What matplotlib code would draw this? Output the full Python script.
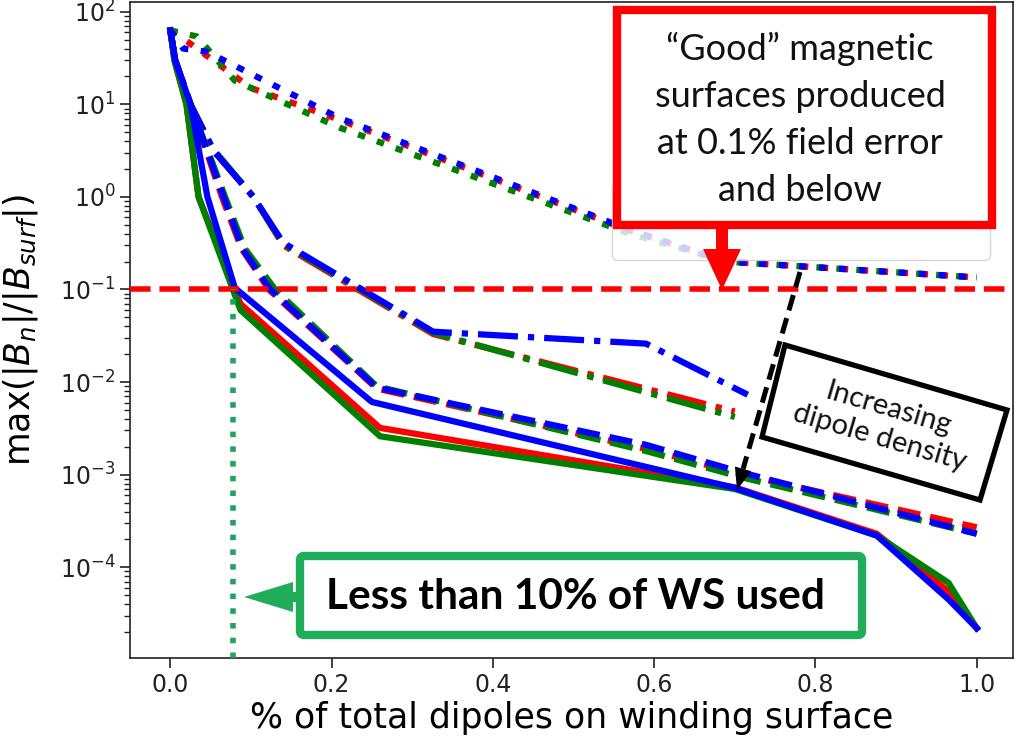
import numpy as np
import matplotlib
matplotlib.use("Agg")
import matplotlib.pyplot as plt
from matplotlib import patches, transforms, ticker
from matplotlib.lines import Line2D

# ---------------- data ----------------
# solid lines (highest dipole density)
x_solid_red = [0.0, 0.005, 0.02, 0.035, 0.087, 0.26, 0.70, 0.876, 0.965, 1.0]
y_solid_red = [63, 30, 10, 1.0, 0.07, 0.0032, 7.3e-4, 2.3e-4, 5.5e-5, 2.2e-5]
x_solid_green = [0.0, 0.005, 0.02, 0.035, 0.087, 0.26, 0.70, 0.876, 0.965, 1.0]
y_solid_green = [63, 30, 10, 1.0, 0.06, 0.0026, 7.0e-4, 2.2e-4, 6.8e-5, 2.2e-5]
x_solid_blue = [0.0, 0.006, 0.025, 0.046, 0.08, 0.25, 0.70, 0.876, 0.965, 1.0]
y_solid_blue = [63, 30, 10, 1.0, 0.104, 0.0061, 7.2e-4, 2.2e-4, 4.5e-5, 2.2e-5]

# dashed lines
x_dash_red = [0.0, 0.006, 0.025, 0.064, 0.088, 0.122, 0.256, 0.59, 0.71, 1.0]
y_dash_red = [63, 30, 10, 1.0, 0.28, 0.1, 0.0085, 0.0019, 0.0010, 2.7e-4]
x_dash_green = [0.0, 0.006, 0.025, 0.068, 0.092, 0.13, 0.256, 0.59, 0.71, 1.0]
y_dash_green = [63, 30, 10, 1.0, 0.28, 0.1, 0.0090, 0.0018, 9.3e-4, 2.3e-4]
x_dash_blue = [0.0, 0.006, 0.025, 0.066, 0.09, 0.124, 0.256, 0.59, 0.71, 1.0]
y_dash_blue = [63, 30, 10, 1.0, 0.27, 0.1, 0.0087, 0.0021, 0.00105, 2.3e-4]

# dash-dot lines
x_dashdot_red = [0.0, 0.006, 0.025, 0.053, 0.103, 0.14, 0.326, 0.70]
y_dashdot_red = [63, 30, 10, 3.2, 1.0, 0.30, 0.033, 0.0048]
x_dashdot_green = [0.0, 0.006, 0.025, 0.053, 0.103, 0.14, 0.326, 0.70]
y_dashdot_green = [63, 30, 10, 3.3, 1.0, 0.31, 0.034, 0.0042]
x_dashdot_blue = [0.0, 0.006, 0.025, 0.053, 0.103, 0.14, 0.326, 0.59, 0.716]
y_dashdot_blue = [63, 30, 10, 3.2, 1.0, 0.32, 0.035, 0.026, 0.0073]

# dotted lines (lowest dipole density)
x_dot_red = [0.0, 0.022, 0.1, 0.21, 0.57, 0.69, 1.0]
y_dot_red = [63, 47, 15, 6.8, 0.43, 0.2, 0.135]
x_dot_green = [0.0, 0.033, 0.08, 0.21, 0.57, 0.69, 1.0]
y_dot_green = [63, 54, 18, 5.6, 0.40, 0.2, 0.135]
x_dot_blue = [0.0, 0.016, 0.045, 0.21, 0.57, 0.69, 1.0]
y_dot_blue = [63, 40, 37, 7.1, 0.44, 0.2, 0.135]

legend_label = "N = 4 coils"
field_error_threshold = 0.1
ws_fraction_used = 0.078
x_ticks = [0.0, 0.2, 0.4, 0.6, 0.8, 1.0]
y_ticks = [1e-4, 1e-3, 1e-2, 1e-1, 1e0, 1e1, 1e2]
y_tick_labels = [r"$10^{-4}$", r"$10^{-3}$", r"$10^{-2}$", r"$10^{-1}$",
                 r"$10^{0}$", r"$10^{1}$", r"$10^{2}$"]

# ---------------- figure ----------------
W, H = 1015, 744
fig = plt.figure(figsize=(W / 100, H / 100), dpi=100)
ax = fig.add_axes([130 / W, (H - 658) / H, (1013 - 130) / W, (658 - 2) / H])

# pixel (from top-left) transform
T = transforms.Affine2D().scale(1 / 100, -1 / 100).translate(0, H / 100) + fig.dpi_scale_trans

lw = 4.5
dotted = (0, (1.2, 2.0))
series = [
    (x_dot_red, y_dot_red, "red", dotted),
    (x_dot_green, y_dot_green, "green", dotted),
    (x_dot_blue, y_dot_blue, "blue", dotted),
    (x_dashdot_red, y_dashdot_red, "red", "-."),
    (x_dashdot_green, y_dashdot_green, "green", "-."),
    (x_dashdot_blue, y_dashdot_blue, "blue", "-."),
    (x_dash_red, y_dash_red, "red", "--"),
    (x_dash_green, y_dash_green, "green", "--"),
    (x_dash_blue, y_dash_blue, "blue", "--"),
    (x_solid_red, y_solid_red, "red", "-"),
    (x_solid_green, y_solid_green, "green", "-"),
    (x_solid_blue, y_solid_blue, "blue", "-"),
]
for xs, ys, c, ls in series:
    ax.plot(xs, ys, color=c, ls=ls, lw=lw)

ax.set_yscale("log")
ax.set_xlim(-0.05, 1.045)
ylo, yhi = 10 ** -4.98, 10 ** 2.105
ax.set_ylim(ylo, yhi)

ax.axhline(field_error_threshold, color="red", ls="--", lw=4, zorder=3)
ax.plot([ws_fraction_used, ws_fraction_used], [ylo, field_error_threshold],
        ls=":", color="#1fa35e", lw=4, zorder=3)

ax.set_xticks(x_ticks)
ax.set_xticklabels([f"{t:.1f}" for t in x_ticks])
ax.set_yticks(y_ticks)
ax.set_yticklabels(y_tick_labels)
minor = [k * 10.0 ** d for d in range(-5, 3) for k in range(2, 10)]
minor = [m for m in minor if ylo < m < yhi]
ax.set_yticks(minor, minor=True)
ax.yaxis.set_minor_formatter(ticker.NullFormatter())
ax.set_ylim(ylo, yhi)
ax.tick_params(axis="both", which="major", labelsize=17, length=7, width=1.2, colors="#222222")
ax.tick_params(axis="y", which="minor", length=4, width=1.0, colors="#222222")
for s in ax.spines.values():
    s.set_linewidth(1.2)
    s.set_color("#222222")

ax.set_xlabel("% of total dipoles on winding surface", fontsize=25, labelpad=3)
ax.set_ylabel(r"max$(|B_n|/|B_{surf}|)$", fontsize=25, labelpad=14)

# legend (mostly hidden behind the annotation box)
handles = [Line2D([], [], color="blue", lw=lw)]
ax.legend(handles, [legend_label], loc="lower right",
          bbox_to_anchor=(990 / W, (H - 260) / H), bbox_transform=fig.transFigure,
          borderaxespad=0, fontsize=20, handlelength=5.6, borderpad=0.9)

ann_font = ["Lato", "DejaVu Sans"]

# red annotation box with arrow
fig.add_artist(patches.Rectangle((617, 10), 375, 215, transform=T, facecolor="white",
                                 edgecolor="#ff0000", lw=6, zorder=10))
fig.text(800, 119, "\u201cGood\u201d magnetic\nsurfaces produced\nat 0.1% field error\nand below",
         transform=T, ha="center", va="center", fontsize=26, linespacing=1.52,
         family=ann_font, color="#111111", zorder=11)
fig.add_artist(patches.Polygon([(716, 229), (728, 229), (728, 249), (741, 249), (722, 290),
                                (703, 249), (716, 249)], closed=True, transform=T,
                               facecolor="#ff0000", edgecolor="none", zorder=11))

# black rotated box
fig.add_artist(patches.Polygon([(785, 345), (1007, 410), (980, 500), (762, 437)], closed=True,
                               transform=T, facecolor="white", edgecolor="black", lw=3.8,
                               zorder=10))
fig.text(884, 423, "Increasing\ndipole density", transform=T, ha="center", va="center",
         rotation=-16.3, rotation_mode="anchor", fontsize=21, linespacing=1.2,
         family=ann_font, color="#111111", zorder=11)

# black dashed arrow
p0 = np.array([800.0, 272.0])
p1 = np.array([737.0, 490.0])
u = (p1 - p0) / np.linalg.norm(p1 - p0)
n = np.array([u[1], -u[0]])
hl, hw = 22.0, 8.5
base = p1 - hl * u
fig.add_artist(Line2D([p0[0], base[0]], [p0[1], base[1]], transform=T, color="black",
                      lw=3.6, ls=(0, (3.2, 1.6)), zorder=12))
fig.add_artist(patches.Polygon([tuple(p1), tuple(base + hw * n), tuple(base - hw * n)],
                               closed=True, transform=T, facecolor="black",
                               edgecolor="none", zorder=12))

# green box with arrow
green = "#1fad5a"
fig.add_artist(patches.FancyBboxPatch((300, 556), 562, 79, transform=T,
                                      boxstyle="round,pad=0,rounding_size=4",
                                      facecolor="white", edgecolor=green, lw=6, zorder=10))
fig.text(575, 597, "Less than 10% of WS used", transform=T, ha="center", va="center",
         fontsize=30.5, fontweight="bold", family=ann_font, color="black", zorder=11)
fig.add_artist(patches.Polygon([(244, 597), (293, 582), (293, 592), (298, 592), (298, 602),
                                (293, 602), (293, 612)], closed=True, transform=T,
                               facecolor=green, edgecolor="none", zorder=11))

fig.savefig("out.png", dpi=100)
